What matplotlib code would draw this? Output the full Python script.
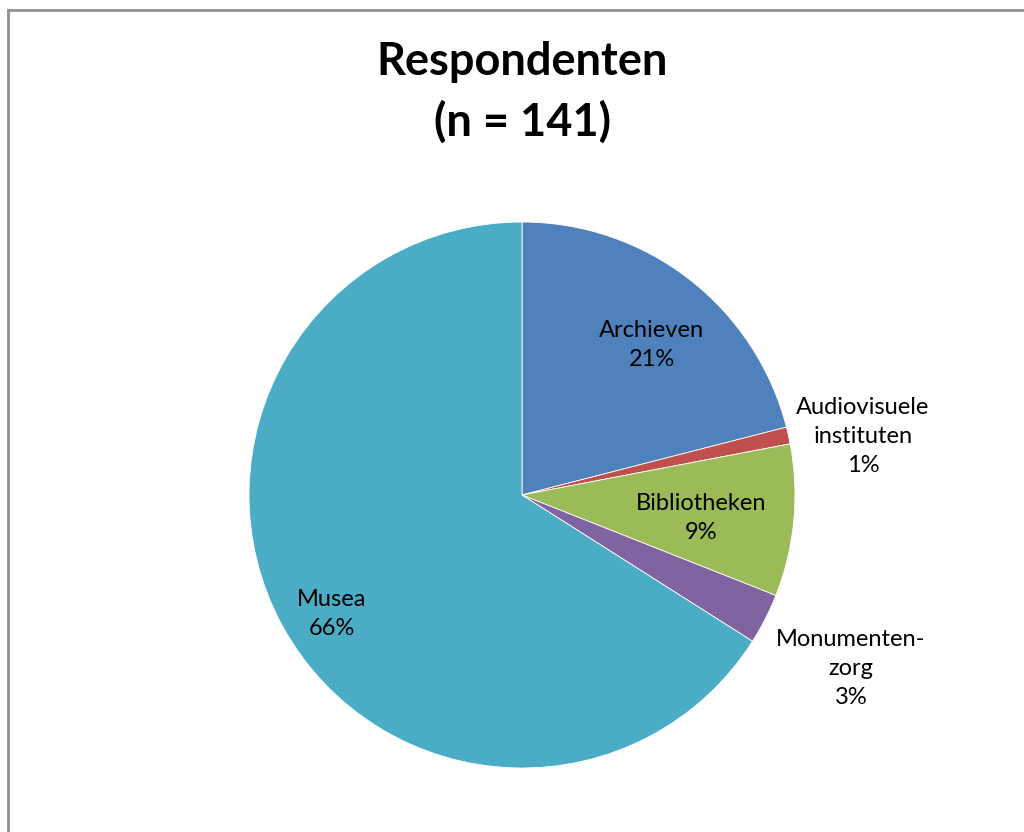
import matplotlib
matplotlib.use("Agg")
import matplotlib.pyplot as plt
from matplotlib.lines import Line2D

categories = ["Archieven", "Audiovisuele\ninstituten", "Bibliotheken", "Monumenten-\nzorg", "Musea"]
values = [21, 1, 9, 3, 66]
colors = ["#4F81BD", "#C0504D", "#9BBB59", "#8064A2", "#4BACC6"]
title = "Respondenten\n(n = 141)"

plt.rcParams['font.family'] = ['Lato', 'DejaVu Sans']

W, H = 1024, 832
fig = plt.figure(figsize=(W / 100, H / 100), dpi=100)
fig.patch.set_facecolor("white")

# frame (top and left visible)
fig.add_artist(Line2D([8 / W, 8 / W], [0, 1 - 10 / H], transform=fig.transFigure, color="#909090", lw=2.0))
fig.add_artist(Line2D([8 / W, 1.0], [1 - 10 / H, 1 - 10 / H], transform=fig.transFigure, color="#909090", lw=2.0))

cx, cy, r = 522, 495, 273
ax = fig.add_axes([(cx - r) / W, (H - cy - r) / H, 2 * r / W, 2 * r / H])
wedges, _ = ax.pie(values, colors=colors, startangle=90, counterclock=False,
                   wedgeprops=dict(edgecolor="white", linewidth=0.6))
ax.set_xlim(-1, 1)
ax.set_ylim(-1, 1)
ax.set_aspect("equal")
ax.axis("off")

label_pos = [(0.476, 0.549), (1.249, 0.216), (0.656, -0.084), (1.205, -0.634), (-0.696, -0.436)]
for cat, v, (x, y) in zip(categories, values, label_pos):
    ax.text(x, y, f"{cat}\n{v}%", ha="center", va="center", fontsize=17,
            linespacing=1.47, color="black")

fig.text(522 / W, 1 - 92 / H, title, ha="center", va="center", fontsize=32.5,
         fontweight="bold", linespacing=1.48)

fig.savefig("out.png", dpi=100)
